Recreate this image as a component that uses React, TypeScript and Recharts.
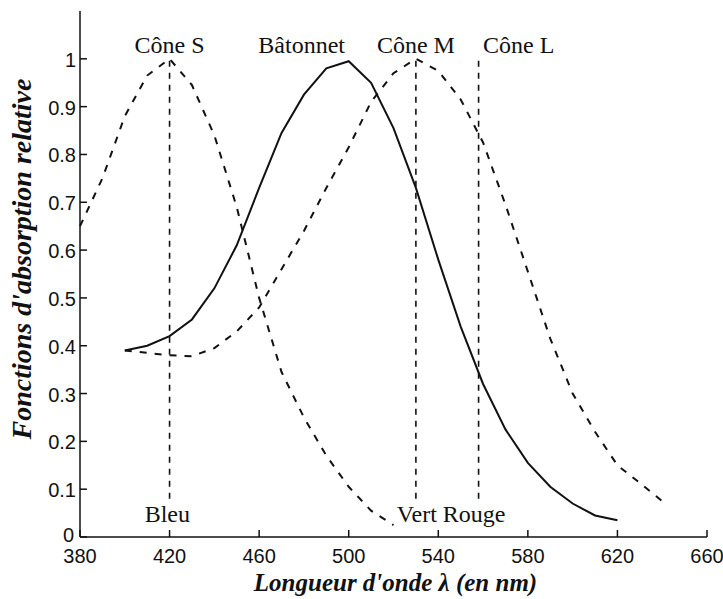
import { LineChart, Line, XAxis, YAxis, ReferenceLine, ReferenceDot } from "recharts";

// wavelength grid, nm
const wavelengths = [
  380, 390, 400, 410, 420, 430, 440, 450, 460, 470, 480, 490, 500, 510,
  520, 530, 540, 550, 560, 570, 580, 590, 600, 610, 620, 630, 640,
];

// rod (bâtonnet), 400..620 nm
const rodValues = [
  0.39, 0.4, 0.42, 0.455, 0.52, 0.61, 0.73, 0.845, 0.925, 0.98, 0.995, 0.95,
  0.855, 0.73, 0.58, 0.44, 0.32, 0.225, 0.155, 0.105, 0.07, 0.045, 0.035,
];

// S cone, 380..520 nm
const coneSValues = [
  0.65, 0.75, 0.88, 0.965, 1.0, 0.945, 0.84, 0.69, 0.5, 0.345, 0.25, 0.17,
  0.105, 0.055, 0.025,
];

// M cone, 400..640 nm
const coneMValues = [
  0.39, 0.385, 0.38, 0.378, 0.395, 0.43, 0.48, 0.56, 0.64, 0.73, 0.815,
  0.91, 0.97, 1.0, 0.975, 0.915, 0.825, 0.695, 0.555, 0.415, 0.3, 0.22,
  0.15, 0.113, 0.075,
];

const xTicks = [380, 420, 460, 500, 540, 580, 620, 660];
const yTicks = [0, 0.1, 0.2, 0.3, 0.4, 0.5, 0.6, 0.7, 0.8, 0.9, 1];

// peak markers (vertical dashed lines)
const peakLines = [420, 530, 558];

const annotations = [
  { text: "Cône S", x: 420, y: 1.012, anchor: "middle" },
  { text: "Bâtonnet", x: 479, y: 1.012, anchor: "middle" },
  { text: "Cône M", x: 530, y: 1.012, anchor: "middle" },
  { text: "Cône L", x: 560, y: 1.012, anchor: "start" },
  { text: "Bleu", x: 419, y: 0.031, anchor: "middle" },
  { text: "Vert Rouge", x: 521.5, y: 0.031, anchor: "start" },
];

const table = wavelengths.map((nm) => {
  const ri = (nm - 400) / 10;
  const si = (nm - 380) / 10;
  const mi = (nm - 400) / 10;
  return {
    nm,
    rod: ri >= 0 && ri < rodValues.length ? rodValues[ri] : null,
    s: si >= 0 && si < coneSValues.length ? coneSValues[si] : null,
    m: mi >= 0 && mi < coneMValues.length ? coneMValues[mi] : null,
  };
});

const SANS = "'Liberation Sans', Arial, sans-serif";
const SERIF = "'Liberation Serif', 'Times New Roman', serif";
const INK = "#111";
const TICK = 7;

const BottomTick = (p: any) => (
  <g>
    <line x1={p.x} y1={p.y} x2={p.x} y2={p.y - TICK} stroke={INK} strokeWidth={1.5} />
    <text x={p.x} y={p.y + 26} textAnchor="middle" fontFamily={SANS} fontSize={20} fill={INK}>
      {p.payload.value}
    </text>
  </g>
);

const TopTick = (p: any) => (
  <line x1={p.x} y1={p.y} x2={p.x} y2={p.y + TICK} stroke={INK} strokeWidth={1.5} />
);

// the "0" label sits a little higher so it clears the x tick labels
const LeftTick = (p: any) => (
  <g>
    <line x1={p.x} y1={p.y} x2={p.x + TICK} y2={p.y} stroke={INK} strokeWidth={1.5} />
    <text
      x={p.x - (p.payload.value === 0 ? 6 : 4)}
      y={p.y + (p.payload.value === 0 ? 5 : 8)}
      textAnchor="end"
      fontFamily={SANS}
      fontSize={20}
      fill={INK}
    >
      {p.payload.value}
    </text>
  </g>
);

const RightTick = (p: any) => (
  <line x1={p.x} y1={p.y} x2={p.x - TICK} y2={p.y} stroke={INK} strokeWidth={1.5} />
);

const annotationLabel = (text: string, anchor: string) => (props: any) => {
  const vb = props.viewBox;
  return (
    <text
      x={vb.x + vb.width / 2}
      y={vb.y + vb.height / 2}
      textAnchor={anchor}
      fontFamily={SERIF}
      fontSize={24}
      fill={INK}
    >
      {text}
    </text>
  );
};

const xTitle = (props: any) => {
  const vb = props.viewBox;
  return (
    <text
      x={vb.x + vb.width / 2 + 2}
      y={591}
      textAnchor="middle"
      fontFamily={SERIF}
      fontWeight="bold"
      fontStyle="italic"
      fontSize={25}
      fill={INK}
    >
      Longueur d'onde λ (en nm)
    </text>
  );
};

const yTitle = () => (
  <text
    x={31}
    y={259}
    transform="rotate(-90 31 259)"
    textAnchor="middle"
    fontFamily={SERIF}
    fontWeight="bold"
    fontStyle="italic"
    fontSize={28}
    fill={INK}
  >
    Fonctions d'absorption relative
  </text>
);

export default function App() {
  return (
    <div style={{ position: "absolute", left: 0, top: 0, background: "#fff" }}>
      <LineChart
        width={723}
        height={599}
        data={table}
        margin={{ top: 11, right: 16, bottom: 0, left: 0 }}
      >
        <XAxis
          dataKey="nm"
          type="number"
          domain={[380, 660]}
          ticks={xTicks}
          height={62}
          tickLine={false}
          tickSize={0}
          tickMargin={0}
          tick={BottomTick}
          axisLine={{ stroke: INK, strokeWidth: 1.5 }}
          label={{ content: xTitle }}
        />
        <XAxis
          xAxisId="top"
          orientation="top"
          dataKey="nm"
          type="number"
          domain={[380, 660]}
          ticks={xTicks}
          height={0}
          tickLine={false}
          tickSize={0}
          tickMargin={0}
          tick={TopTick}
          axisLine={{ stroke: INK, strokeWidth: 1.5 }}
        />
        <YAxis
          type="number"
          domain={[0, 1.1]}
          ticks={yTicks}
          width={80}
          tickLine={false}
          tickSize={0}
          tickMargin={0}
          tick={LeftTick}
          axisLine={{ stroke: INK, strokeWidth: 1.5 }}
          label={{ content: yTitle }}
        />
        <YAxis
          yAxisId="right"
          orientation="right"
          type="number"
          domain={[0, 1.1]}
          ticks={yTicks.slice(1)}
          width={0}
          tickLine={false}
          tickSize={0}
          tickMargin={0}
          tick={RightTick}
          axisLine={{ stroke: INK, strokeWidth: 1.5 }}
        />

        {peakLines.map((nm) => (
          <ReferenceLine
            key={nm}
            segment={[
              { x: nm, y: 0.08 },
              { x: nm, y: 1 },
            ]}
            stroke={INK}
            strokeWidth={1.6}
            strokeDasharray="6 6"
          />
        ))}

        <Line
          dataKey="s"
          type="linear"
          stroke={INK}
          strokeWidth={2}
          strokeDasharray="7 8"
          dot={false}
          isAnimationActive={false}
        />
        <Line
          dataKey="m"
          type="linear"
          stroke={INK}
          strokeWidth={2}
          strokeDasharray="7 8"
          dot={false}
          isAnimationActive={false}
        />
        <Line
          dataKey="rod"
          type="linear"
          stroke={INK}
          strokeWidth={2}
          dot={false}
          isAnimationActive={false}
        />

        {annotations.map((a) => (
          <ReferenceDot
            key={a.text}
            x={a.x}
            y={a.y}
            r={0}
            fill="none"
            stroke="none"
            label={{ content: annotationLabel(a.text, a.anchor) }}
          />
        ))}
      </LineChart>
    </div>
  );
}
